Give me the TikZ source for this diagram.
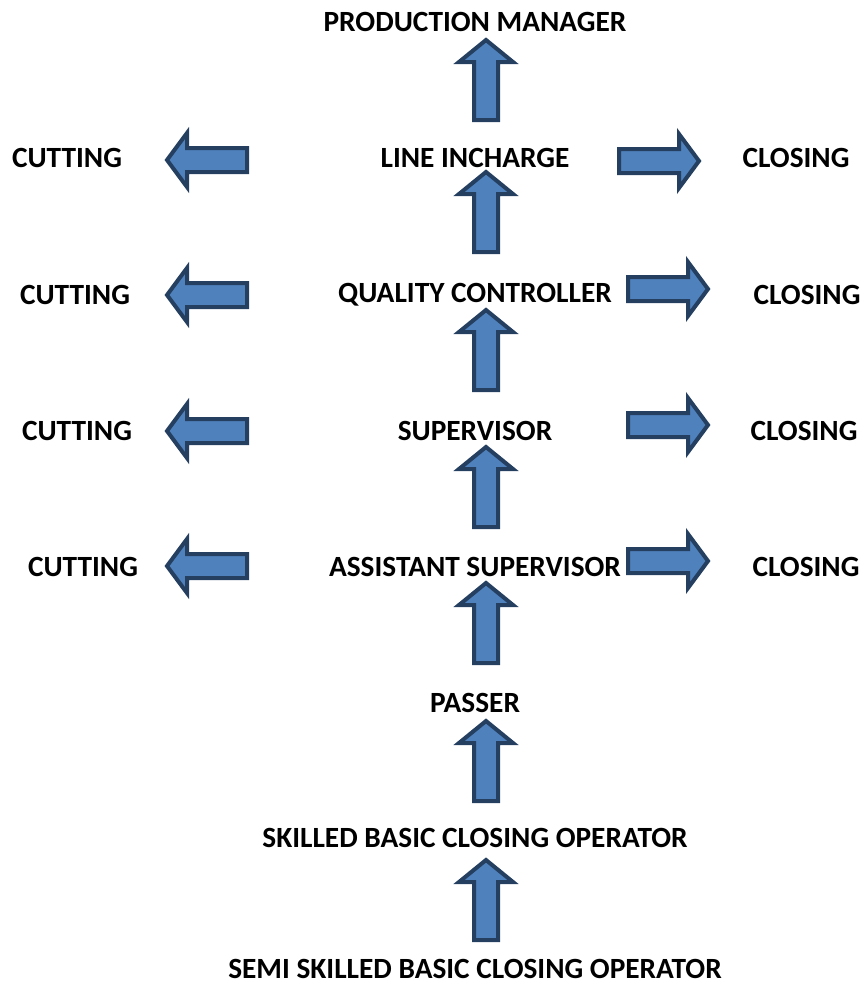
\documentclass[tikz,border=0pt]{standalone}
\usepackage{fontspec}
\setmainfont{Carlito}
\definecolor{arrfill}{HTML}{4F81BD}
\definecolor{arrline}{HTML}{243F60}
\begin{document}
\begin{tikzpicture}[x=0.75pt,y=-0.75pt,
  lbl/.style={font=\fontsize{22}{26}\selectfont\bfseries, inner sep=0pt, text=black},
  blk/.style={fill=arrfill, draw=arrline, line width=3pt, line join=miter},
  pics/uparrow/.style={code={\path[blk] (0,2) -- (27,24) -- (12,24) -- (12,82) -- (-12,82) -- (-12,24) -- (-27,24) -- cycle;}},
  pics/leftarrow/.style={code={\path[blk] (2,0) -- (22,-27) -- (22,-12) -- (82,-12) -- (82,12) -- (22,12) -- (22,27) -- cycle;}},
  pics/rightarrow/.style={code={\path[blk] (-2,0) -- (-22,-27) -- (-22,-12) -- (-82,-12) -- (-82,12) -- (-22,12) -- (-22,27) -- cycle;}}
]
\useasboundingbox (0,0) rectangle (864,985);
% labels
\node[lbl] (pm) at (475,22) {PRODUCTION MANAGER};
\node[lbl] (li) at (475,158) {LINE INCHARGE};
\node[lbl] (qc) at (475,295) {QUALITY CONTROLLER};
\node[lbl] (sv) at (475,431) {SUPERVISOR};
\node[lbl] (as) at (475,567) {ASSISTANT SUPERVISOR};
\node[lbl] (ps) at (475,703) {PASSER};
\node[lbl] (sk) at (475,838) {SKILLED BASIC CLOSING OPERATOR};
\node[lbl] (ss) at (475,969) {SEMI SKILLED BASIC CLOSING OPERATOR};
\node[lbl] (c1) at (67,158) {CUTTING};
\node[lbl] (c2) at (75,295) {CUTTING};
\node[lbl] (c3) at (77,431) {CUTTING};
\node[lbl] (c4) at (83,567) {CUTTING};
\node[lbl] (k1) at (796,158) {CLOSING};
\node[lbl] (k2) at (807,295) {CLOSING};
\node[lbl] (k3) at (804,431) {CLOSING};
\node[lbl] (k4) at (806,567) {CLOSING};
% up arrows
\pic at (486,38) {uparrow};
\pic at (486,170) {uparrow};
\pic at (486,308) {uparrow};
\pic at (486,445) {uparrow};
\pic at (486,581) {uparrow};
\pic at (486,719) {uparrow};
\pic at (486,858) {uparrow};
% left arrows
\pic at (165,160) {leftarrow};
\pic at (165,295) {leftarrow};
\pic at (165,431) {leftarrow};
\pic at (165,566) {leftarrow};
% right arrows
\pic at (701,161) {rightarrow};
\pic at (710,289) {rightarrow};
\pic at (710,425) {rightarrow};
\pic at (710,561) {rightarrow};
\end{tikzpicture}
\end{document}
